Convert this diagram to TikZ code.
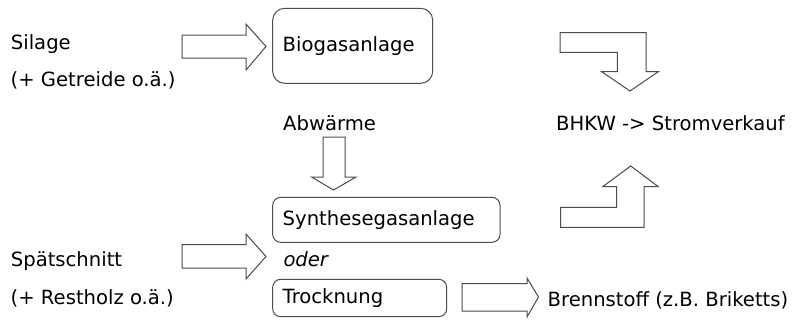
\documentclass[tikz,border=0pt]{standalone}
\usepackage{fontspec}
\setmainfont{DejaVu Sans}
\begin{document}
\begin{tikzpicture}[x=1pt,y=-1pt,
  lbl/.style={anchor=base west, inner sep=0pt, font=\fontsize{19.6}{23}\selectfont},
  boxx/.style={draw=black!70, line width=1pt, align=left, inner xsep=10pt, inner ysep=0pt,
    font=\fontsize{19.6}{23}\selectfont},
  barrow/.style={draw=black!70, line width=1pt, fill=white, line join=miter}]
\useasboundingbox (0,0) rectangle (801,325);
% text labels
\node[lbl] (silage) at (10.7,49.3) {Silage};
\node[lbl] (getreide) at (10.5,86) {(+ Getreide o.ä.)};
\node[lbl] (spaet) at (10.7,266) {Spätschnitt};
\node[lbl] (restholz) at (10.5,304.5) {(+ Restholz o.ä.)};
\node[lbl] (abw) at (283,130) {Abwärme};
\node[lbl] (bhkw) at (556,130.5) {BHKW -> Stromverkauf};
\node[lbl, font=\fontsize{19.6}{23}\selectfont\itshape] (oder) at (283.3,266) {oder};
\node[lbl] (brenn) at (547.5,306) {Brennstoff (z.B. Briketts)};
% boxes
\node[boxx, rounded corners=12pt, text width=140pt, minimum height=75pt] (bio) at (352.7,45.8) {Biogasanlage};
\node[boxx, rounded corners=8pt, text width=207.3pt, minimum height=45pt] (syn) at (386.35,219.8) {Synthesegasanlage};
\node[boxx, rounded corners=8pt, text width=154pt, minimum height=37.4pt] (troc) at (359.7,298) {Trocknung};
% block arrows
\draw[barrow] (182,35) -- (246,35) -- (246,24) -- (266,46.5) -- (246,70) -- (246,58) -- (182,58) -- cycle;
\draw[barrow] (182,244.5) -- (246,244.5) -- (246,234) -- (266,256.5) -- (246,279) -- (246,268) -- (182,268) -- cycle;
\draw[barrow] (323,137) -- (345,137) -- (345,177) -- (356,177) -- (333.5,190) -- (311.5,177) -- (323,177) -- cycle;
\draw[barrow] (462,283.5) -- (527,283.5) -- (527,278) -- (538.5,297) -- (527,317) -- (527,311) -- (462,311) -- cycle;
\draw[barrow] (560,32.7) -- (646,32.7) -- (646,71.7) -- (658.3,71.7) -- (630,91) -- (601.7,71.7) -- (617.3,71.7) -- (617.3,52.3) -- (560,52.3) -- cycle;
\draw[barrow] (560.7,227.3) -- (644,227.3) -- (644,186.7) -- (658.3,186.7) -- (630.7,166) -- (602.7,186.7) -- (616.7,186.7) -- (616.7,207.3) -- (560.7,207.3) -- cycle;
\end{tikzpicture}
\end{document}
